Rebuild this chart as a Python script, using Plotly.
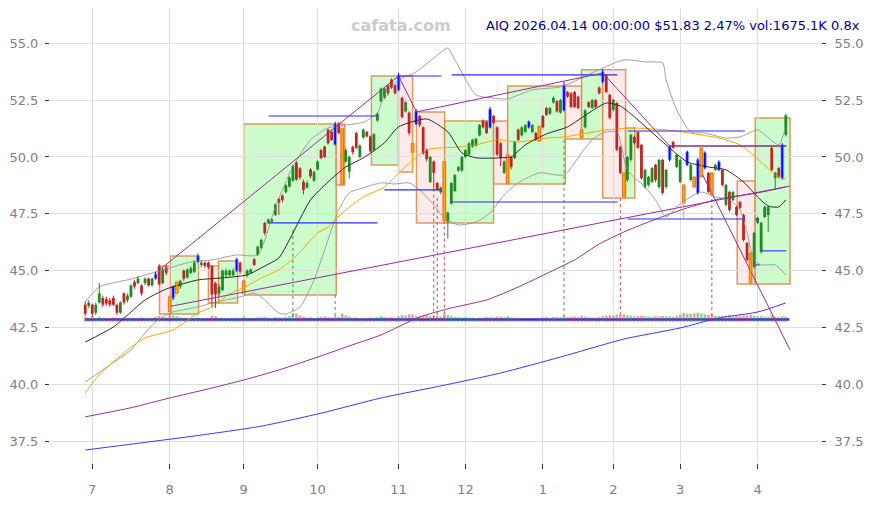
import plotly.graph_objects as go

# ---------------- candle data (trading-day index 0..199) ----------------
opens = [
 43.50, 43.45, 43.50, 43.15, 43.60, 43.80, 43.75, 43.70, 43.80, 43.50,
 43.15, 44.00, 43.70, 43.85, 44.50, 44.45, 44.35, 44.45, 44.65, 44.35,
 44.65, 45.20, 44.45, 45.15, 43.85, 43.80, 44.00, 44.30, 45.00, 44.70,
 44.90, 44.95, 45.40, 45.25, 45.35, 45.35, 45.20, 44.45, 44.00, 44.15,
 44.80, 44.80, 44.80, 45.00, 45.35, 44.00, 44.80, 44.90, 45.50, 45.70,
 46.00, 47.10, 47.10, 47.15, 47.45, 48.15, 48.30, 48.45, 48.70, 48.95,
 49.75, 49.50, 48.90, 48.65, 49.45, 48.95, 49.45, 50.30, 50.45, 51.20,
 51.10, 50.55, 51.45, 51.25, 49.80, 49.35, 50.45, 51.05, 50.00, 50.85,
 51.10, 50.90, 50.30, 51.60, 52.45, 52.60, 53.15, 53.40, 53.15, 52.95,
 52.60, 52.00, 51.95, 50.60, 51.45, 51.80, 51.30, 50.30, 48.90, 49.80,
 48.85, 48.45, 49.80, 47.15, 47.95, 48.50, 49.40, 49.40, 50.00, 50.10,
 50.45, 50.50, 50.95, 51.60, 51.55, 51.30, 51.80, 51.30, 50.60, 49.30,
 48.85, 50.00, 49.95, 51.20, 50.95, 51.10, 51.30, 51.10, 51.05, 50.70,
 51.80, 52.15, 51.90, 52.40, 52.45, 51.95, 52.05, 52.85, 52.80, 52.85,
 52.65, 51.20, 51.30, 52.40, 52.15, 52.50, 53.05, 53.30, 53.60, 52.73,
 52.07, 52.37, 50.44, 49.30, 48.99, 49.87, 50.88, 51.10, 50.53, 48.68,
 48.77, 48.90, 49.65, 48.68, 49.87, 48.68, 49.87, 50.66, 49.56, 48.90,
 48.77, 49.65, 48.99, 49.12, 48.42, 49.12, 49.51, 49.30, 49.30, 49.43,
 49.43, 49.43, 47.89, 48.46, 48.11, 47.80, 48.02, 47.45, 46.21, 45.78,
 45.16, 47.10, 45.82, 47.36, 47.45, 50.40, 49.07, 49.51, 49.07, 50.97]

closes = [
 43.10, 43.60, 43.10, 43.50, 44.00, 43.50, 43.55, 43.50, 43.50, 43.15,
 43.60, 43.60, 43.90, 44.35, 44.30, 44.65, 44.00, 44.65, 44.35, 44.65,
 44.85, 44.40, 45.05, 44.90, 43.20, 44.30, 44.50, 44.55, 44.65, 45.05,
 45.10, 45.35, 45.65, 45.35, 45.20, 45.15, 43.95, 43.95, 44.30, 45.00,
 45.00, 45.00, 45.00, 45.50, 44.95, 44.55, 45.00, 45.05, 45.25, 46.05,
 46.35, 46.65, 47.25, 47.25, 47.90, 48.00, 48.10, 48.75, 49.10, 49.60,
 49.00, 49.10, 48.55, 48.85, 49.15, 49.35, 49.80, 49.95, 50.00, 50.60,
 50.75, 51.45, 51.05, 48.80, 50.30, 50.00, 50.20, 50.40, 50.50, 51.20,
 50.90, 50.25, 51.00, 51.90, 53.00, 53.00, 52.80, 53.05, 52.80, 53.60,
 51.75, 52.40, 51.05, 50.20, 52.00, 51.40, 50.15, 49.90, 50.00, 49.30,
 48.55, 48.65, 47.20, 47.55, 48.85, 49.20, 49.55, 50.00, 50.30, 50.60,
 50.75, 50.80, 51.40, 51.30, 51.05, 52.10, 51.50, 50.10, 49.95, 49.80,
 50.10, 49.55, 50.65, 50.75, 51.30, 51.40, 51.55, 51.40, 50.75, 51.35,
 51.30, 51.85, 52.15, 52.60, 52.00, 52.50, 53.15, 52.65, 52.20, 52.20,
 52.15, 50.85, 52.05, 52.20, 52.50, 52.20, 52.80, 53.74, 52.86, 51.72,
 52.51, 50.31, 49.30, 48.24, 50.00, 50.97, 50.61, 50.40, 49.07, 49.43,
 49.12, 49.51, 48.99, 49.87, 48.42, 49.43, 50.44, 50.40, 50.09, 49.87,
 47.98, 50.22, 49.65, 48.68, 49.87, 50.40, 50.18, 48.46, 48.33, 49.65,
 49.78, 48.77, 48.77, 47.67, 48.46, 47.45, 47.76, 46.35, 45.47, 44.45,
 46.66, 47.32, 47.10, 47.80, 47.80, 49.43, 49.30, 49.12, 50.53, 51.83]

highs = [
 43.65, 43.70, 43.55, 43.60, 44.45, 43.90, 43.85, 43.80, 43.90, 43.55,
 43.65, 44.05, 44.00, 44.40, 44.60, 44.75, 44.40, 44.70, 44.70, 44.70,
 44.95, 45.30, 45.15, 45.25, 43.95, 44.35, 44.55, 44.60, 45.05, 45.10,
 45.20, 45.45, 45.75, 45.45, 45.40, 45.40, 45.25, 44.50, 44.40, 45.05,
 45.10, 45.05, 45.10, 45.55, 45.40, 44.60, 45.05, 45.10, 45.55, 46.10,
 46.40, 47.15, 47.30, 47.30, 47.95, 48.20, 48.35, 48.80, 49.15, 49.65,
 49.80, 49.55, 49.00, 48.95, 49.50, 49.40, 49.85, 50.35, 50.50, 51.25,
 51.20, 51.55, 51.55, 51.30, 50.40, 50.05, 50.50, 51.10, 50.55, 51.25,
 51.15, 50.95, 51.05, 51.95, 53.05, 53.05, 53.20, 53.45, 53.20, 53.70,
 52.65, 52.45, 52.00, 50.65, 52.10, 51.85, 51.35, 50.35, 50.05, 49.85,
 48.90, 48.70, 49.85, 47.60, 48.90, 49.25, 49.60, 50.05, 50.35, 50.65,
 50.80, 50.85, 51.45, 51.65, 51.60, 52.20, 51.85, 51.35, 50.65, 49.85,
 50.15, 50.05, 50.70, 51.25, 51.35, 51.45, 51.60, 51.45, 51.10, 51.40,
 51.85, 52.20, 52.20, 52.65, 52.50, 52.55, 53.30, 52.90, 52.85, 52.90,
 52.70, 51.25, 52.10, 52.45, 52.55, 52.55, 53.10, 53.85, 53.65, 52.78,
 52.56, 52.42, 50.50, 49.35, 50.05, 51.02, 50.93, 51.15, 50.58, 49.48,
 49.17, 49.56, 49.70, 49.92, 49.92, 49.48, 50.50, 50.71, 50.14, 49.92,
 48.82, 50.28, 49.70, 49.17, 49.95, 50.48, 50.25, 49.35, 49.35, 49.70,
 49.85, 49.48, 48.82, 48.51, 48.51, 47.85, 48.07, 47.50, 46.26, 45.83,
 46.71, 47.37, 47.15, 47.85, 47.85, 50.45, 49.35, 49.56, 50.60, 51.90]

lows = [
 43.00, 43.35, 42.95, 43.05, 43.55, 43.40, 43.45, 43.40, 43.45, 43.05,
 43.10, 43.50, 43.60, 43.80, 44.20, 44.40, 43.90, 44.35, 44.30, 44.30,
 44.60, 44.35, 44.40, 44.80, 43.10, 43.70, 43.95, 44.20, 44.55, 44.65,
 44.85, 44.90, 45.35, 45.15, 45.10, 45.05, 43.40, 43.35, 43.90, 44.10,
 44.70, 44.75, 44.75, 44.95, 44.85, 43.95, 44.70, 44.85, 45.20, 45.65,
 45.95, 46.55, 47.05, 47.10, 47.40, 47.45, 48.00, 48.40, 48.65, 48.90,
 48.95, 49.00, 48.35, 48.60, 49.05, 48.90, 49.40, 49.90, 49.95, 50.55,
 50.70, 50.50, 51.00, 48.75, 49.75, 49.05, 50.10, 50.35, 49.95, 50.80,
 50.85, 50.20, 50.25, 51.55, 52.40, 52.55, 52.70, 53.00, 52.75, 52.90,
 51.70, 51.95, 50.95, 49.50, 51.40, 51.30, 50.10, 49.80, 48.85, 48.60,
 48.50, 48.35, 47.15, 46.40, 47.90, 48.45, 49.35, 49.35, 49.95, 50.05,
 50.40, 50.45, 50.90, 51.25, 51.00, 51.25, 51.45, 50.05, 49.60, 49.25,
 48.80, 49.45, 49.90, 50.70, 50.90, 51.05, 51.25, 51.05, 50.70, 50.65,
 51.25, 51.80, 51.85, 52.35, 51.95, 51.90, 52.00, 52.60, 52.15, 52.15,
 52.10, 50.80, 51.25, 52.15, 52.10, 52.15, 52.75, 53.25, 52.80, 51.65,
 52.00, 50.25, 49.25, 48.15, 48.90, 49.80, 50.55, 50.35, 49.00, 48.60,
 48.70, 48.85, 48.90, 48.60, 48.35, 48.60, 49.80, 50.35, 49.50, 48.85,
 47.27, 49.60, 48.93, 48.62, 48.35, 49.05, 49.45, 48.40, 48.25, 49.38,
 49.38, 48.70, 47.82, 47.60, 48.05, 47.40, 47.70, 46.28, 45.40, 44.40,
 45.10, 47.05, 45.75, 47.30, 46.70, 49.38, 48.55, 49.05, 49.00, 50.90]

# candle colour class: g=up, r=down, b=blue marker, o=orange marker
kinds = ("rgrggrrrrr" "grggrgrgrg" "brgrobogrg" "ggbgrrrrgg" "gggbroggrg"
         "grgggrrggg" "rrrgrggrrr" "rbroggrrgg" "rrggggrrrb" "rgrobrrrgr"
         "rgoggggggg" "gggrrbrrrg" "orgrggbgro" "rrggrgbrrr" "rogrgrrbrr"
         "grroggrrrg" "ggrgrgbrgg" "obgobobrog" "brgrgrrrro" "gggggrgrbg")

volume_k = [
 1500, 1300, 1700, 1200, 1600, 1100, 1000, 1200, 1400, 1300,
 1200, 1500, 1100, 1300, 1200, 1000, 1400, 1100, 1200, 1300,
 1600, 1900, 1500, 1400, 2600, 2000, 1800, 1500, 1300, 1200,
 1100, 1300, 1400, 1000, 1100, 1200, 2000, 1800, 1300, 1200,
 1000, 900, 1100, 1300, 1200, 1700, 1300, 1100, 1200, 1400,
 1500, 1600, 1300, 1200, 1500, 1400, 1300, 1600, 1800, 2800,
 2600, 2000, 1700, 1400, 1500, 1300, 1400, 1600, 1700, 1500,
 1400, 1800, 1500, 2600, 2000, 1700, 1300, 1400, 1200, 1300,
 1200, 1400, 1300, 1500, 1900, 1600, 1400, 1500, 1300, 1700,
 2200, 2000, 2400, 2300, 1900, 1800, 2000, 2100, 1900, 1800,
 1900, 1700, 2700, 2200, 1800, 1600, 1500, 1400, 1500, 1400,
 1300, 1200, 1400, 1300, 1500, 1600, 1400, 1700, 1600, 1500,
 1800, 1400, 1300, 1200, 500, 400, 400, 500, 600, 900,
 1400, 1500, 1300, 1600, 1500, 1400, 1800, 1500, 1600, 1700,
 1500, 1900, 1700, 1500, 1400, 1300, 1500, 1800, 2000, 2100,
 1900, 2300, 2200, 2400, 2100, 1900, 1700, 1800, 2000, 1800,
 1700, 1600, 1800, 1700, 1900, 1800, 1700, 1600, 1800, 2200,
 2800, 2600, 2500, 2700, 2900, 2600, 2400, 2200, 2500, 1900,
 1800, 1900, 2000, 2100, 1800, 1900, 1800, 2000, 2100, 2300,
 2000, 1700, 1800, 1500, 1600, 2100, 1700, 1500, 1800, 1675]

month_tick_idx = [2, 24, 45, 66, 89, 108, 130, 150, 169, 191]
month_labels = ["7", "8", "9", "10", "11", "12", "1", "2", "3", "4"]
price_ticks = [37.5, 40.0, 42.5, 45.0, 47.5, 50.0, 52.5, 55.0]

# ---------------- indicator curves ----------------
ma_black_x = [0, 8, 13, 17, 23, 32, 38, 46, 50, 55, 58, 64, 69, 74, 79, 85, 89, 97, 103, 107,
              111, 118, 121, 125, 131, 137, 143, 148, 152, 156, 165, 171, 177, 182, 187, 191, 194, 197, 199]
ma_black_y = [41.86, 42.52, 43.18, 43.71, 44.19, 44.59, 44.67, 44.81, 45.12, 45.56, 46.35, 48.11, 48.90,
              49.56, 49.96, 50.62, 51.32, 51.67, 51.10, 50.18, 49.96, 49.96, 50.00, 50.53, 51.01, 51.32,
              51.93, 52.37, 52.24, 51.76, 50.53, 49.78, 49.56, 49.43, 48.90, 48.24, 47.84, 47.80, 48.11]

ma_orange_x = [0, 4, 12, 17, 25, 32, 36, 41, 46, 50, 55, 60, 66, 69, 73, 79, 85, 90, 97, 106,
               111, 117, 123, 131, 136, 148, 156, 165, 175, 180, 186, 192, 196, 199]
ma_orange_y = [39.62, 40.41, 41.51, 42.04, 42.39, 43.14, 43.40, 43.97, 44.33, 44.68, 45.03, 45.65,
               46.66, 46.92, 47.54, 48.24, 48.68, 49.43, 50.31, 50.44, 50.53, 50.75, 50.66, 50.83,
               50.88, 51.19, 51.27, 51.19, 50.97, 50.83, 50.53, 49.78, 49.21, 49.03]

band_up_x = [0, 4, 13, 21, 30, 36, 43, 49, 54, 59, 64, 69, 74, 79, 83, 85, 89, 94, 99, 103, 105,
             111, 116, 120, 127, 135, 141, 147, 153, 159, 164, 165, 168, 172, 176, 182, 186, 191,
             193, 197, 199]
band_up_y = [43.62, 44.28, 44.63, 44.98, 45.38, 45.47, 45.69, 45.69, 47.80, 49.56, 50.75, 51.28,
             51.40, 51.53, 51.93, 52.72, 53.39, 53.74, 54.35, 54.79, 54.27, 52.73, 52.59, 52.55,
             52.95, 53.08, 53.47, 53.91, 54.27, 54.18, 54.13, 53.39, 52.07, 51.10, 51.05, 50.83,
             50.88, 51.19, 50.97, 50.53, 51.32]

band_lo_x = [0, 7, 13, 17, 20, 24, 32, 36, 44, 48, 51, 55, 57, 61, 65, 68, 72, 75, 79, 84, 88,
             92, 95, 99, 102, 106, 111, 115, 119, 123, 129, 136, 141, 144, 147, 151, 154, 159,
             162, 165, 168, 172, 175, 179, 183, 186, 188, 190, 192, 196, 199]
band_lo_y = [40.10, 40.85, 41.51, 42.26, 42.74, 43.14, 43.40, 43.58, 43.84, 44.02, 43.71, 43.14,
             43.09, 43.40, 44.59, 45.91, 47.67, 48.42, 48.64, 48.86, 48.81, 48.86, 48.55, 47.89,
             47.32, 47.01, 47.14, 47.54, 48.33, 48.86, 49.30, 49.21, 50.18, 50.75, 51.05, 51.10,
             49.43, 48.68, 48.11, 47.36, 47.80, 48.24, 48.46, 48.24, 48.11, 47.67, 46.66, 45.47,
             45.25, 45.25, 44.81]

ma_purple_x = [0, 13, 24, 35, 45, 55, 67, 75, 84, 95, 104, 114, 123, 132, 139, 146, 153, 160, 170, 180, 191, 199]
ma_purple_y = [38.57, 38.97, 39.40, 39.80, 40.19, 40.63, 41.25, 41.69, 42.17, 42.96, 43.36, 43.71,
               44.28, 44.94, 45.47, 46.17, 46.70, 47.14, 47.71, 48.15, 48.42, 48.68]

ma_blue_x = [0, 33, 50, 67, 84, 101, 118, 135, 153, 169, 180, 191, 199]
ma_blue_y = [37.11, 37.77, 38.16, 38.73, 39.40, 39.93, 40.50, 41.20, 41.99, 42.48, 42.92, 43.18, 43.58]

# ---------------- drawn objects ----------------
box_start = [21.1, 24.1, 35.0, 37.9, 45.0, 71.3, 81.3, 89.0, 94.1, 102.1, 116.0, 120.0, 136.4, 141.0, 147.0, 153.5, 185.2, 190.3]
box_end = [24.1, 32.2, 37.9, 43.3, 71.3, 73.7, 89.0, 93.0, 102.1, 116.0, 120.0, 136.4, 141.0, 147.0, 153.5, 156.1, 190.3, 200.2]
box_top = [45.20, 45.64, 45.20, 45.42, 51.45, 51.45, 53.56, 53.56, 51.98, 51.58, 51.58, 53.12, 53.12, 53.83, 53.83, 51.27, 48.94, 51.71]
box_bottom = [43.09, 43.09, 43.58, 43.58, 43.93, 48.77, 49.65, 49.34, 47.10, 47.10, 48.81, 48.81, 50.79, 50.79, 48.19, 48.19, 44.41, 44.41]
box_kind = "rgrggrgrrgrgrgrgrg"

level_start = [52.1, 52.1, 85.0, 89.3, 104.1, 104.1, 154.1, 154.1, 192.1, 190.3, 190.3]
level_end = [83.0, 83.0, 101.2, 101.2, 151.2, 151.2, 187.4, 187.4, 199.2, 191.4, 191.6]
level_value = [51.80, 47.10, 48.55, 53.56, 53.61, 48.02, 51.14, 47.27, 45.87, 47.27, 45.25]

purple_level = [166.0, 199.2, 50.48]

trend_x0 = [21.1, 89.0, 94.1, 147.0, 175.4, 24.2]
trend_y0 = [45.03, 53.56, 51.98, 53.69, 49.21, 43.43]
trend_x1 = [89.0, 94.1, 147.0, 166.0, 200.2, 200.2]
trend_y1 = [53.56, 51.98, 53.69, 50.48, 41.51, 48.72]

mark_x = [59, 71, 99, 100, 102, 136, 152, 178]
mark_top = [46.79, 43.93, 48.60, 48.20, 47.20, 50.75, 48.19, 48.41]
mark_kind = "ggrrrgrr"

base_level = 42.85

# ---------------- figure ----------------
N = len(closes)
fig = go.Figure()

shapes = []
for x0, x1, t, b, k in zip(box_start, box_end, box_top, box_bottom, box_kind):
    shapes.append(dict(type="rect", xref="x", yref="y", x0=x0, x1=x1, y0=b, y1=t,
                       fillcolor="#cdfccd" if k == "g" else "#fdebea",
                       line=dict(color="rgba(220,135,70,0.85)", width=1.5), layer="below"))

# volume bars on hidden axis
vcol = ["rgba(60,150,60,0.5)" if closes[i] >= opens[i] else "rgba(200,70,70,0.5)" for i in range(N)]
fig.add_trace(go.Bar(x=list(range(N)), y=volume_k, yaxis="y2", marker=dict(color=vcol, line=dict(width=0)),
                     width=0.75, hoverinfo="skip"))

# base level line
fig.add_trace(go.Scatter(x=[0, 200], y=[base_level, base_level], mode="lines",
                         line=dict(color="#2a2aee", width=2.6), hoverinfo="skip"))

# dotted marker verticals
for xv, tv, k in zip(mark_x, mark_top, mark_kind):
    fig.add_trace(go.Scatter(x=[xv, xv], y=[tv, base_level], mode="lines",
                             line=dict(color="#3a9a3a" if k == "g" else "#c84a4a", width=1, dash="dot"),
                             hoverinfo="skip"))

def curve(xs, ys, color, w=1.0):
    fig.add_trace(go.Scatter(x=xs, y=ys, mode="lines", line=dict(color=color, width=w, shape="spline", smoothing=0.6),
                             hoverinfo="skip"))

curve(ma_blue_x, ma_blue_y, "#2020ff", 0.9)
curve(ma_purple_x, ma_purple_y, "#8a1a8a", 0.9)
curve(band_up_x, band_up_y, "#959595", 0.9)
curve(band_lo_x, band_lo_y, "#959595", 0.9)
curve(ma_orange_x, ma_orange_y, "#ffa500", 1.0)
curve(ma_black_x, ma_black_y, "#111111", 0.9)

# blue level segments
for s, e, v in zip(level_start, level_end, level_value):
    fig.add_trace(go.Scatter(x=[s, e], y=[v, v], mode="lines", line=dict(color="#2a2aff", width=1.1), hoverinfo="skip"))
fig.add_trace(go.Scatter(x=purple_level[:2], y=[purple_level[2]] * 2, mode="lines",
                         line=dict(color="#8a2a8a", width=1.3), hoverinfo="skip"))

# purple trend lines
for a, b, c, d in zip(trend_x0, trend_y0, trend_x1, trend_y1):
    fig.add_trace(go.Scatter(x=[a, c], y=[b, d], mode="lines", line=dict(color="#9a2a9a", width=1.0), hoverinfo="skip"))

# candles
body = {"g": "#238b23", "r": "#bf2727", "b": "#0a0aff", "o": "#ffa500"}
edge = {"g": "#238b23", "r": "#bf2727", "b": "#8fb0ff", "o": "#e0571a"}
for k in "grbo":
    ids = [i for i in range(N) if kinds[i] == k]
    wx, wy = [], []
    for i in ids:
        wx += [i, i, None]
        wy += [lows[i], highs[i], None]
    fig.add_trace(go.Scatter(x=wx, y=wy, mode="lines", line=dict(color=body[k], width=1), hoverinfo="skip"))
    fig.add_trace(go.Bar(x=ids, y=[max(abs(closes[i] - opens[i]), 0.04) for i in ids],
                         base=[min(opens[i], closes[i]) for i in ids], width=0.8,
                         marker=dict(color=body[k], line=dict(color=edge[k], width=0.8 if k in "bo" else 0)),
                         hoverinfo="skip"))

# right axis dummy
fig.add_trace(go.Scatter(x=[0], y=[45], yaxis="y3", mode="markers", marker=dict(opacity=0), hoverinfo="skip"))

yr = [36.54, 56.55]
tickfont = dict(family="DejaVu Sans", size=13, color="#808080")
fig.update_layout(
    width=875, height=505, margin=dict(l=50, r=54, t=8, b=42),
    plot_bgcolor="white", paper_bgcolor="white", showlegend=False, barmode="overlay",
    font=dict(family="DejaVu Sans"), shapes=shapes,
    xaxis=dict(range=[-10, 209], tickmode="array", tickvals=month_tick_idx, ticktext=month_labels,
               showgrid=True, gridcolor="#dedede", gridwidth=1, zeroline=False, showline=False,
               ticks="outside", ticklen=5, tickcolor="#333333", tickfont=tickfont, ticklabelstandoff=9),
    yaxis=dict(range=yr, tickmode="array", tickvals=price_ticks, tickformat=".1f", side="left",
               showgrid=True, gridcolor="#dedede", gridwidth=1, zeroline=False, showline=False,
               ticks="outside", ticklen=4, tickcolor="#333333", tickfont=tickfont, ticklabelstandoff=4),
    yaxis2=dict(overlaying="y", range=[-45000, 100000], visible=False),
    yaxis3=dict(overlaying="y", side="right", range=yr, tickmode="array", tickvals=price_ticks, tickformat=".1f",
                showgrid=False, zeroline=False, showline=False, ticks="outside", ticklen=4,
                tickcolor="#333333", tickfont=tickfont, ticklabelstandoff=6),
    annotations=[
        dict(text="<b>cafata.com</b>", xref="paper", yref="paper", x=0.4553, y=0.9626,
             xanchor="center", yanchor="middle", showarrow=False,
             font=dict(family="DejaVu Sans", size=16, color="#cccccc")),
        dict(text="AIQ 2026.04.14 00:00:00 $51.83 2.47% vol:1675.1K 0.8x", xref="paper", yref="paper",
             x=1.0532, y=0.9626, xanchor="right", yanchor="middle", showarrow=False,
             font=dict(family="DejaVu Sans", size=13, color="#00008b")),
    ],
)

fig.write_html("out.html", config={"displayModeBar": False, "staticPlot": True},
               post_script="document.body.style.margin='0px';")
